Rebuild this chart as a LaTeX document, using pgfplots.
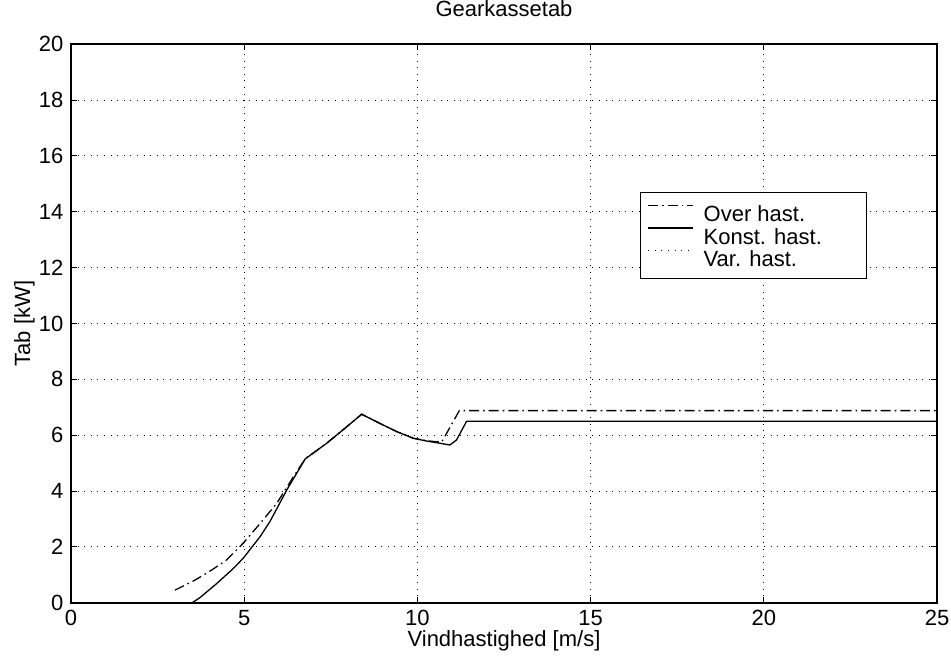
\documentclass[border=0pt]{standalone}
\usepackage{fontspec}
\setmainfont{Liberation Sans}
\usepackage{pgfplots}
\pgfplotsset{compat=1.18}
\newcommand\fsz{\fontsize{11}{13}\selectfont}
\begin{document}
\fsz
\begin{tikzpicture}
\begin{axis}[
  name=ax, scale only axis, width=433pt, height=279.2pt,
  xmin=0, xmax=25, ymin=0, ymax=20,
  xtick={0,5,...,25}, ytick={0,2,...,20},
  grid=major,
  major grid style={black, line width=0.5pt, dash pattern=on 0.5pt off 2.8pt},
  axis line style={line width=1pt},
  tick align=inside, major tick length=3pt, tick style={black, line width=0.5pt},
  tick label style={font=\fsz},
  /pgf/number format/assume math mode=true,
  title={Gearkassetab},
  title style={at={(axis description cs:0.5,1.0287)}, anchor=base, yshift=0pt, font=\fsz},
  xlabel={Vindhastighed [m/s]},
  xlabel style={at={(axis description cs:0.5,-0.0788)}, anchor=base, font=\fsz},
  ylabel={Tab [kW]},
  ylabel style={at={(axis description cs:-0.0473,0.5)}, anchor=base, font=\fsz},
  legend cell align=left,
  legend style={at={(axis description cs:0.657,0.736)}, anchor=north west,
    draw=black, line width=0.6pt, fill=white, font=\fsz,
    inner xsep=3.5pt, inner ysep=4.6pt, row sep=0pt, column sep=4.9pt,
    nodes={inner sep=0pt, text height=9.9pt, text depth=1.45pt}},
  legend image code/.code={\draw[#1] (0pt,3.8pt) -- (22.5pt,3.8pt);},
]
\addplot[black, line width=0.65pt, dash pattern=on 5pt off 2pt on 0.8pt off 2pt] coordinates {
(3.0,0.45) (3.58,0.81) (4.06,1.17) (4.49,1.53) (4.97,2.13) (5.46,2.84) (5.94,3.56)
(6.42,4.51) (6.76,5.15) (7.38,5.71) (7.91,6.25) (8.39,6.75) (9.02,6.36) (9.40,6.13)
(9.88,5.89) (10.27,5.80) (10.70,5.75) (11.21,6.88) (25,6.88)};
\addlegendentry{\makebox[78pt][l]{Over hast.}}
\addplot[black, line width=0.65pt] coordinates {
(3.0,0) (3.5,0) (3.72,0.18) (4.21,0.69) (4.69,1.23) (4.97,1.59) (5.46,2.37) (5.74,2.90)
(6.23,4.04) (6.76,5.15) (7.38,5.71) (7.91,6.25) (8.39,6.75) (9.02,6.36) (9.40,6.13)
(9.88,5.89) (10.27,5.79) (10.65,5.71) (10.94,5.65) (11.13,5.83) (11.42,6.50) (25,6.50)};
\addlegendentry{\makebox[78pt][l]{Konst. hast.}}
\addlegendimage{black, line width=0.5pt, dash pattern=on 0.5pt off 2.8pt}
\addlegendentry{\makebox[78pt][l]{Var. hast.}}
\end{axis}
\pgfresetboundingbox
\path (-35.5pt,-26.2pt) rectangle (440pt,301.35pt);
\end{tikzpicture}
\end{document}
